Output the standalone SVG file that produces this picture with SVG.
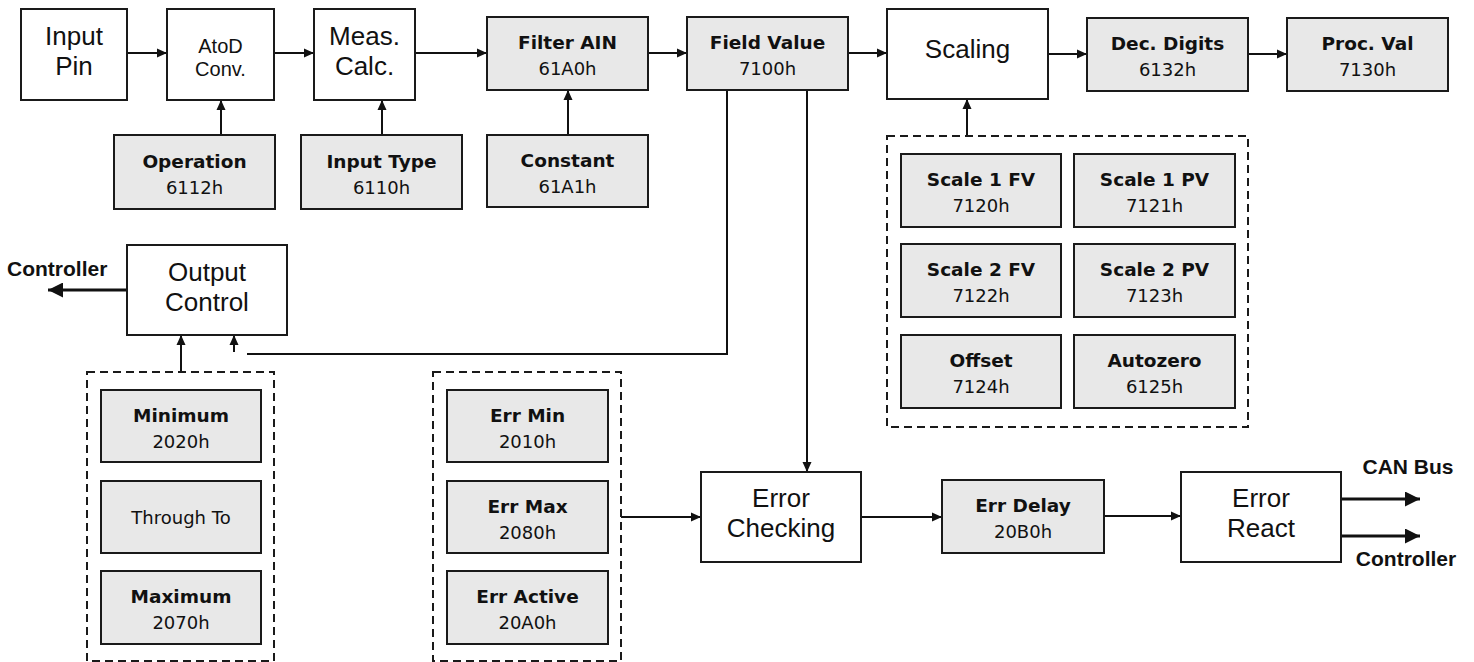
<svg xmlns="http://www.w3.org/2000/svg" width="1474" height="662" viewBox="0 0 1474 662">
<defs>
<style>
.bx{fill:#ffffff;stroke:#1a1a1a;stroke-width:2}
.gb{fill:#e8e8e8;stroke:#1a1a1a;stroke-width:2}
.dash{fill:none;stroke:#1a1a1a;stroke-width:2;stroke-dasharray:8,5}
.ln{fill:none;stroke:#111;stroke-width:2}
.lnb{fill:none;stroke:#111;stroke-width:3}
.t1{font-family:"Liberation Sans",Arial,sans-serif;font-size:26px;fill:#111;text-anchor:middle}
.t2{font-family:"Liberation Sans",Arial,sans-serif;font-size:20px;fill:#111;text-anchor:middle}
.tb{font-family:"DejaVu Sans",Tahoma,sans-serif;font-size:18.5px;font-weight:bold;fill:#111;text-anchor:middle}
.tn{font-family:"DejaVu Sans",Tahoma,sans-serif;font-size:18px;fill:#111;text-anchor:middle}
.tl{font-family:"Liberation Sans",Arial,sans-serif;font-size:21px;font-weight:bold;fill:#111}
</style>
<marker id="a" markerUnits="userSpaceOnUse" markerWidth="10" markerHeight="10" refX="10" refY="5" orient="auto"><path d="M0,0.5 L10,5 L0,9.5 z" fill="#111"/></marker>
<marker id="ab" markerUnits="userSpaceOnUse" markerWidth="16" markerHeight="15" refX="15" refY="7.5" orient="auto"><path d="M0,0 L15,7.5 L0,15 z" fill="#111"/></marker>
</defs>
<rect width="1474" height="662" fill="#ffffff"/>

<g id="connectors">
<path class="ln" d="M127,53 H167" marker-end="url(#a)"/>
<path class="ln" d="M274,53 H314" marker-end="url(#a)"/>
<path class="ln" d="M415,53 H487" marker-end="url(#a)"/>
<path class="ln" d="M648,53 H687" marker-end="url(#a)"/>
<path class="ln" d="M848,53 H887" marker-end="url(#a)"/>
<path class="ln" d="M1048,54 H1087" marker-end="url(#a)"/>
<path class="ln" d="M1248,54 H1287" marker-end="url(#a)"/>
<path class="ln" d="M221,135 V100" marker-end="url(#a)"/>
<path class="ln" d="M382,135 V100" marker-end="url(#a)"/>
<path class="ln" d="M568,135 V90" marker-end="url(#a)"/>
<path class="ln" d="M967,136 V99" marker-end="url(#a)"/>
<path class="ln" d="M727,90 V354 H247"/>
<path class="ln" d="M234,352 V335" marker-end="url(#a)"/>
<path class="ln" d="M807,90 V472" marker-end="url(#a)"/>
<path class="ln" d="M181,372 V335" marker-end="url(#a)"/>
<path class="lnb" d="M127,290 H48" marker-end="url(#ab)"/>
<path class="ln" d="M621,517 H701" marker-end="url(#a)"/>
<path class="ln" d="M861,517 H942" marker-end="url(#a)"/>
<path class="ln" d="M1104,516 H1181" marker-end="url(#a)"/>
<path class="lnb" d="M1341,499 H1420" marker-end="url(#ab)"/>
<path class="lnb" d="M1341,536 H1420" marker-end="url(#ab)"/>
</g>

<g id="input-pin"><rect class="bx" x="21" y="9" width="106" height="91"/><text class="t1" x="74" y="45">Input</text><text class="t1" x="74" y="75">Pin</text></g>
<g id="atod"><rect class="bx" x="167" y="9" width="107" height="91"/><text class="t2" x="220.5" y="53">AtoD</text><text class="t2" x="220.5" y="76">Conv.</text></g>
<g id="meas-calc"><rect class="bx" x="314" y="9" width="101" height="91"/><text class="t1" x="364.5" y="45">Meas.</text><text class="t1" x="364.5" y="75">Calc.</text></g>
<g id="filter-ain"><rect class="gb" x="487" y="17" width="161" height="73"/><text class="tb" x="567.5" y="49">Filter AIN</text><text class="tn" x="567.5" y="75">61A0h</text></g>
<g id="field-value"><rect class="gb" x="687" y="17" width="161" height="73"/><text class="tb" x="767.5" y="49">Field Value</text><text class="tn" x="767.5" y="75">7100h</text></g>
<g id="scaling"><rect class="bx" x="887" y="9" width="161" height="90"/><text class="t1" x="967.5" y="58">Scaling</text></g>
<g id="dec-digits"><rect class="gb" x="1087" y="18" width="161" height="73"/><text class="tb" x="1167.5" y="50">Dec. Digits</text><text class="tn" x="1167.5" y="76">6132h</text></g>
<g id="proc-val"><rect class="gb" x="1287" y="18" width="161" height="73"/><text class="tb" x="1367.5" y="50">Proc. Val</text><text class="tn" x="1367.5" y="76">7130h</text></g>

<g id="operation"><rect class="gb" x="114" y="135" width="161" height="74"/><text class="tb" x="194.5" y="168">Operation</text><text class="tn" x="194.5" y="194">6112h</text></g>
<g id="input-type"><rect class="gb" x="301" y="135" width="161" height="74"/><text class="tb" x="381.5" y="168">Input Type</text><text class="tn" x="381.5" y="194">6110h</text></g>
<g id="constant"><rect class="gb" x="487" y="135" width="161" height="72"/><text class="tb" x="567.5" y="167">Constant</text><text class="tn" x="567.5" y="193">61A1h</text></g>

<g id="scaling-group">
<rect class="dash" x="887" y="136" width="361" height="291"/>
<g id="scale1fv"><rect class="gb" x="901" y="154" width="160" height="73"/><text class="tb" x="981" y="186">Scale 1 FV</text><text class="tn" x="981" y="212">7120h</text></g>
<g id="scale1pv"><rect class="gb" x="1074" y="154" width="161" height="73"/><text class="tb" x="1154.5" y="186">Scale 1 PV</text><text class="tn" x="1154.5" y="212">7121h</text></g>
<g id="scale2fv"><rect class="gb" x="901" y="244" width="160" height="73"/><text class="tb" x="981" y="276">Scale 2 FV</text><text class="tn" x="981" y="302">7122h</text></g>
<g id="scale2pv"><rect class="gb" x="1074" y="244" width="161" height="73"/><text class="tb" x="1154.5" y="276">Scale 2 PV</text><text class="tn" x="1154.5" y="302">7123h</text></g>
<g id="offset"><rect class="gb" x="901" y="335" width="160" height="73"/><text class="tb" x="981" y="367">Offset</text><text class="tn" x="981" y="393">7124h</text></g>
<g id="autozero"><rect class="gb" x="1074" y="335" width="161" height="73"/><text class="tb" x="1154.5" y="367">Autozero</text><text class="tn" x="1154.5" y="393">6125h</text></g>
</g>

<g id="output-control"><rect class="bx" x="127" y="245" width="160" height="90"/><text class="t1" x="207" y="281">Output</text><text class="t1" x="207" y="311">Control</text></g>
<g id="label-controller-left"><text class="tl" x="7" y="276">Controller</text></g>

<g id="limit-group">
<rect class="dash" x="87" y="372" width="187" height="289"/>
<g id="minimum"><rect class="gb" x="101" y="390" width="160" height="72"/><text class="tb" x="181" y="422">Minimum</text><text class="tn" x="181" y="448">2020h</text></g>
<g id="through-to"><rect class="gb" x="101" y="481" width="160" height="72"/><text class="tn" x="181" y="524">Through To</text></g>
<g id="maximum"><rect class="gb" x="101" y="571" width="160" height="73"/><text class="tb" x="181" y="603">Maximum</text><text class="tn" x="181" y="629">2070h</text></g>
</g>

<g id="err-group">
<rect class="dash" x="433" y="372" width="188" height="289"/>
<g id="err-min"><rect class="gb" x="447" y="390" width="161" height="72"/><text class="tb" x="527.5" y="422">Err Min</text><text class="tn" x="527.5" y="448">2010h</text></g>
<g id="err-max"><rect class="gb" x="447" y="481" width="161" height="72"/><text class="tb" x="527.5" y="513">Err Max</text><text class="tn" x="527.5" y="539">2080h</text></g>
<g id="err-active"><rect class="gb" x="447" y="571" width="161" height="73"/><text class="tb" x="527.5" y="603">Err Active</text><text class="tn" x="527.5" y="629">20A0h</text></g>
</g>

<g id="error-checking"><rect class="bx" x="701" y="472" width="160" height="90"/><text class="t1" x="781" y="507">Error</text><text class="t1" x="781" y="537">Checking</text></g>
<g id="err-delay"><rect class="gb" x="942" y="480" width="162" height="73"/><text class="tb" x="1023" y="512">Err Delay</text><text class="tn" x="1023" y="538">20B0h</text></g>
<g id="error-react"><rect class="bx" x="1181" y="472" width="160" height="90"/><text class="t1" x="1261" y="507">Error</text><text class="t1" x="1261" y="537">React</text></g>
<g id="label-canbus"><text class="tl" x="1408" y="474" text-anchor="middle">CAN Bus</text></g>
<g id="label-controller-right"><text class="tl" x="1406" y="566" text-anchor="middle">Controller</text></g>
</svg>
